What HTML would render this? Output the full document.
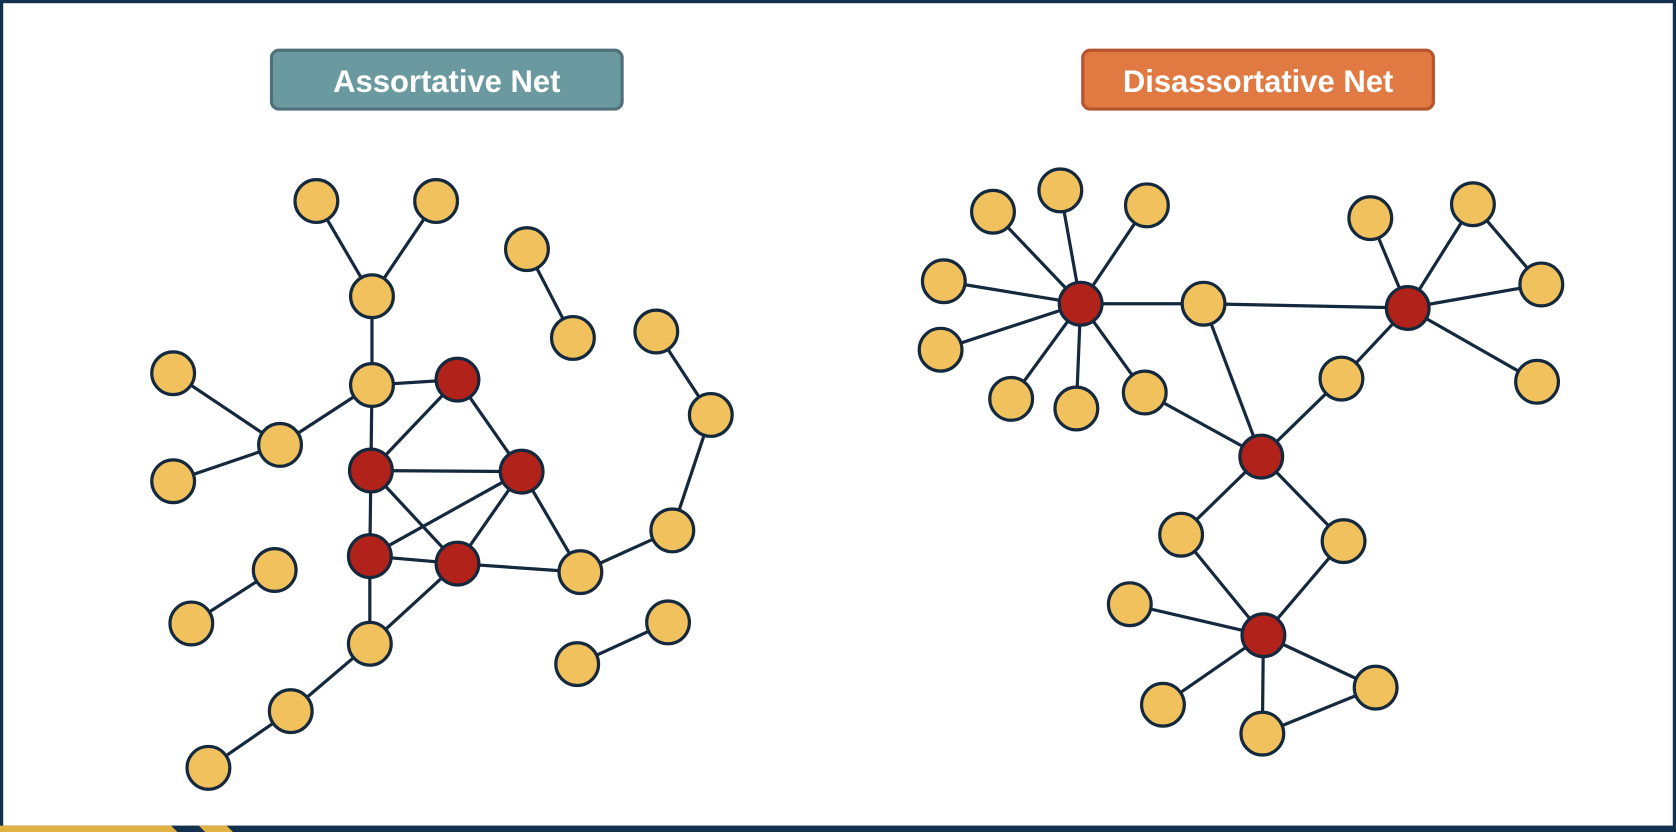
<!DOCTYPE html>
<html><head><style>
html,body{margin:0;padding:0;background:#fff;}
svg{display:block;}
</style></head><body>
<svg width="1676" height="832" viewBox="0 0 1568 778" preserveAspectRatio="none" xmlns="http://www.w3.org/2000/svg">
<rect x="0" y="0" width="1568" height="778" fill="#fff"/>
<rect x="1.5" y="1.5" width="1565" height="776" fill="none" stroke="#14304F" stroke-width="3"/>
<rect x="0" y="772" width="1568" height="6" fill="#14304F"/>
<polygon points="0,772 160,772 166,778 0,778" fill="#E2B143"/>
<polygon points="186,772 212,772 218,778 192,778" fill="#E2B143"/>
<rect x="254" y="47" width="328" height="55" rx="7" fill="#6A9AA0" stroke="#50707A" stroke-width="3"/>
<text x="418" y="86" text-anchor="middle" font-family="Liberation Sans, sans-serif" font-weight="bold" font-size="29" fill="#fff">Assortative Net</text>
<rect x="1013" y="47" width="328" height="55" rx="7" fill="#E07A42" stroke="#B4552E" stroke-width="3"/>
<text x="1177" y="86" text-anchor="middle" font-family="Liberation Sans, sans-serif" font-weight="bold" font-size="29" fill="#fff">Disassortative Net</text>
<g stroke="#14293D" stroke-width="3">
<line x1="296" y1="188" x2="348" y2="277"/><line x1="408" y1="188" x2="348" y2="277"/><line x1="348" y1="277" x2="348" y2="360"/>
<line x1="493" y1="233" x2="536" y2="316"/><line x1="614" y1="310" x2="665" y2="388"/><line x1="665" y1="388" x2="629" y2="496"/>
<line x1="162" y1="349" x2="262" y2="416"/><line x1="262" y1="416" x2="348" y2="360"/><line x1="262" y1="416" x2="162" y2="450"/>
<line x1="348" y1="360" x2="428" y2="355"/><line x1="348" y1="360" x2="347" y2="440"/><line x1="428" y1="355" x2="347" y2="440"/>
<line x1="428" y1="355" x2="488" y2="441"/><line x1="347" y1="440" x2="488" y2="441"/><line x1="347" y1="440" x2="346" y2="520"/>
<line x1="347" y1="440" x2="428" y2="527"/><line x1="488" y1="441" x2="346" y2="520"/><line x1="488" y1="441" x2="428" y2="527"/>
<line x1="488" y1="441" x2="543" y2="535"/><line x1="346" y1="520" x2="428" y2="527"/><line x1="428" y1="527" x2="543" y2="535"/>
<line x1="543" y1="535" x2="629" y2="496"/><line x1="346" y1="520" x2="346" y2="602"/><line x1="428" y1="527" x2="346" y2="602"/>
<line x1="346" y1="602" x2="272" y2="665"/><line x1="272" y1="665" x2="195" y2="718"/><line x1="257" y1="533" x2="179" y2="583"/>
<line x1="625" y1="582" x2="540" y2="621"/>
<line x1="1011" y1="284" x2="929" y2="198"/><line x1="1011" y1="284" x2="992" y2="178"/><line x1="1011" y1="284" x2="1073" y2="192"/>
<line x1="1011" y1="284" x2="883" y2="263"/><line x1="1011" y1="284" x2="880" y2="327"/><line x1="1011" y1="284" x2="946" y2="373"/>
<line x1="1011" y1="284" x2="1007" y2="382"/><line x1="1011" y1="284" x2="1071" y2="367"/><line x1="1011" y1="284" x2="1126" y2="284"/>
<line x1="1126" y1="284" x2="1317" y2="288"/><line x1="1126" y1="284" x2="1180" y2="427"/><line x1="1071" y1="367" x2="1180" y2="427"/>
<line x1="1317" y1="288" x2="1282" y2="204"/><line x1="1317" y1="288" x2="1378" y2="191"/><line x1="1378" y1="191" x2="1442" y2="266"/>
<line x1="1317" y1="288" x2="1442" y2="266"/><line x1="1317" y1="288" x2="1438" y2="357"/><line x1="1317" y1="288" x2="1255" y2="354"/>
<line x1="1255" y1="354" x2="1180" y2="427"/><line x1="1180" y1="427" x2="1105" y2="500"/><line x1="1180" y1="427" x2="1257" y2="506"/>
<line x1="1105" y1="500" x2="1182" y2="594"/><line x1="1257" y1="506" x2="1182" y2="594"/><line x1="1182" y1="594" x2="1057" y2="565"/>
<line x1="1182" y1="594" x2="1088" y2="659"/><line x1="1182" y1="594" x2="1181" y2="686"/><line x1="1182" y1="594" x2="1287" y2="643"/>
<line x1="1287" y1="643" x2="1181" y2="686"/>
</g>
<g stroke="#14293D" stroke-width="3" fill="#F0C15C">
<circle cx="296" cy="188" r="20"/><circle cx="408" cy="188" r="20"/><circle cx="348" cy="277" r="20"/><circle cx="493" cy="233" r="20"/>
<circle cx="536" cy="316" r="20"/><circle cx="614" cy="310" r="20"/><circle cx="665" cy="388" r="20"/><circle cx="162" cy="349" r="20"/>
<circle cx="348" cy="360" r="20"/><circle cx="262" cy="416" r="20"/><circle cx="162" cy="450" r="20"/><circle cx="543" cy="535" r="20"/>
<circle cx="629" cy="496" r="20"/><circle cx="257" cy="533" r="20"/><circle cx="179" cy="583" r="20"/><circle cx="346" cy="602" r="20"/>
<circle cx="625" cy="582" r="20"/><circle cx="540" cy="621" r="20"/><circle cx="272" cy="665" r="20"/><circle cx="195" cy="718" r="20"/>
<circle cx="929" cy="198" r="20"/><circle cx="992" cy="178" r="20"/><circle cx="1073" cy="192" r="20"/><circle cx="883" cy="263" r="20"/>
<circle cx="1126" cy="284" r="20"/><circle cx="880" cy="327" r="20"/><circle cx="946" cy="373" r="20"/><circle cx="1007" cy="382" r="20"/>
<circle cx="1071" cy="367" r="20"/><circle cx="1282" cy="204" r="20"/><circle cx="1378" cy="191" r="20"/><circle cx="1442" cy="266" r="20"/>
<circle cx="1255" cy="354" r="20"/><circle cx="1438" cy="357" r="20"/><circle cx="1105" cy="500" r="20"/><circle cx="1257" cy="506" r="20"/>
<circle cx="1057" cy="565" r="20"/><circle cx="1287" cy="643" r="20"/><circle cx="1088" cy="659" r="20"/><circle cx="1181" cy="686" r="20"/>
</g>
<g stroke="#14293D" stroke-width="3" fill="#B0221A">
<circle cx="428" cy="355" r="20"/><circle cx="347" cy="440" r="20"/><circle cx="488" cy="441" r="20"/><circle cx="346" cy="520" r="20"/>
<circle cx="428" cy="527" r="20"/><circle cx="1011" cy="284" r="20"/><circle cx="1317" cy="288" r="20"/><circle cx="1180" cy="427" r="20"/>
<circle cx="1182" cy="594" r="20"/>
</g>
</svg>
</body></html>
